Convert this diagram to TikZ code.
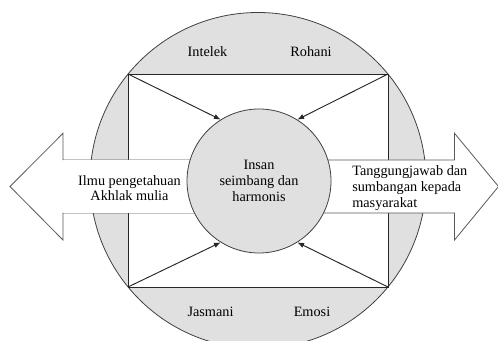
\documentclass[tikz,border=0pt]{standalone}
\usepackage{fontspec}
\setmainfont{Liberation Serif}
\usetikzlibrary{arrows.meta}
\begin{document}
\begin{tikzpicture}[x=0.75pt,y=-0.75pt,
  ring/.style={circle, draw=black!75, line width=0.6pt, fill=black!12, inner sep=0pt},
  frameline/.style={draw=black!85, line width=0.7pt, fill=white},
  pointer/.style={draw=black!85, line width=0.7pt, -{Latex[length=5pt,width=4pt]}},
  bigarrow/.style={draw=black!65, line width=0.6pt, fill=white},
  lbl/.style={font=\fontsize{10.7}{11.8}\selectfont, inner sep=0pt},
]
\useasboundingbox (0,0) rectangle (498,341);
\clip (0,0) rectangle (498,341);
% outer circle
\node[ring, minimum size=252pt] (whole) at (258,180.5) {};
% rectangle corners on the circle
\coordinate (tl) at (128,74);
\coordinate (tr) at (388,74);
\coordinate (bl) at (128,287);
\coordinate (br) at (388,287);
\draw[frameline] (tl) -- (tr) -- (br) -- (bl) -- cycle;
% inner circle (placed now for anchors, redrawn later on top)
\node[ring, minimum size=108pt, draw=none, fill=none] (insanpos) at (259,181) {};
\draw[pointer] (tl) -- (insanpos.122);
\draw[pointer] (tr) -- (insanpos.58);
\draw[pointer] (bl) -- (insanpos.238);
\draw[pointer] (br) -- (insanpos.302);
% big horizontal arrows
\coordinate (lmid) at (259,160);
\coordinate (lmidb) at (259,213);
\draw[bigarrow] (lmid) -- (63,160) -- (63,133.3) -- (10,186.5) -- (63,240) -- (63,213) -- (lmidb);
\fill[white] (lmid) -- (63,160) -- (63,213) -- (lmidb) -- cycle;
\draw[bigarrow] (lmid) -- (454.5,160) -- (454.5,133.3) -- (498.5,186.5) -- (454.5,240) -- (454.5,213) -- (lmidb);
% inner circle on top
\node[ring, minimum size=108pt, align=center, lbl] (insan) at (259,181) {Insan\\seimbang dan\\harmonis};
% labels
\node[lbl] (intelek) at (207.5,51.5) {Intelek};
\node[lbl] (rohani) at (311,51.5) {Rohani};
\node[lbl] (jasmani) at (210.5,311.5) {Jasmani};
\node[lbl] (emosi) at (312,311.5) {Emosi};
\node[lbl, align=center] (ilmu) at (129.5,188) {Ilmu pengetahuan\\Akhlak mulia};
\node[lbl, align=left, anchor=west] (tanggung) at (352,188) {Tanggungjawab dan\\sumbangan kepada\\masyarakat};
\end{tikzpicture}
\end{document}
